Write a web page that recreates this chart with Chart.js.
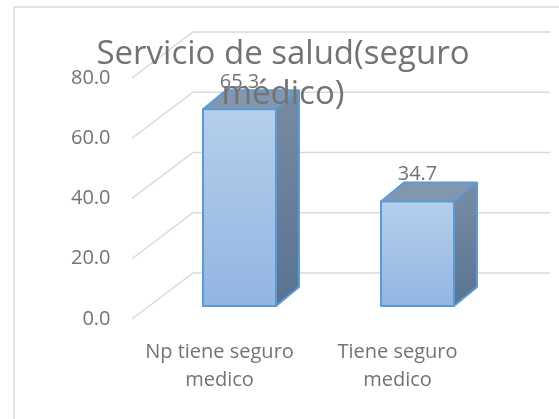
<!DOCTYPE html>
<html>
<head>
<meta charset="utf-8">
<title>Servicio de salud</title>
<script src="https://cdn.jsdelivr.net/npm/chart.js@4.4.1/dist/chart.umd.min.js"></script>
<style>
  html, body { margin: 0; padding: 0; background: #fff; }
  #wrap { width: 559px; height: 419px; position: relative; }
</style>
</head>
<body>
<div id="wrap"><canvas id="myChart" width="559" height="419"></canvas></div>
<script>
var categories = [['Np tiene seguro', 'medico'], ['Tiene seguro', 'medico']];
var values = [65.3, 34.7];
var tickValues = [0, 20, 40, 60, 80];
var titleLines = ['Servicio de salud(seguro', 'médico)'];

var textGray = '#737373';
var gridGray = '#d9d9d9';
var edgeBlue = '#5b9bd5';

// depth of the bars and of the back wall (excel 3d look)
var barDx = 23, barDy = 19;
var frontDrop = 13, backRise = 33;

var frame = {
  id: 'frame',
  beforeDraw: function(chart) {
    var ctx = chart.ctx;
    ctx.save();
    ctx.fillStyle = '#fff';
    ctx.fillRect(0, 0, chart.width, chart.height);
    ctx.strokeStyle = gridGray;
    ctx.lineWidth = 1.5;
    ctx.beginPath();
    ctx.moveTo(14, chart.height + 2);
    ctx.lineTo(14, 7);
    ctx.lineTo(chart.width + 2, 7);
    ctx.stroke();
    ctx.restore();
  }
};

var walls = {
  id: 'walls',
  beforeDatasetsDraw: function(chart) {
    var ctx = chart.ctx;
    var y = chart.scales.y;
    var area = chart.chartArea;
    ctx.save();
    ctx.strokeStyle = gridGray;
    ctx.lineWidth = 1.5;
    tickValues.forEach(function(v) {
      var py = y.getPixelForValue(v);
      ctx.beginPath();
      ctx.moveTo(area.left - 18.5, py + frontDrop);
      ctx.lineTo(area.left + 42.5, py - backRise);
      ctx.lineTo(area.right + 43.5, py - backRise);
      ctx.stroke();
    });
    ctx.restore();
  }
};

function ok(n) { return typeof n === 'number' && isFinite(n); }

var bars3d = {
  id: 'bars3d',
  afterDatasetsDraw: function(chart) {
    var ctx = chart.ctx;
    var meta = chart.getDatasetMeta(0);
    ctx.save();
    meta.data.forEach(function(bar, i) {
      if (!ok(bar.x) || !ok(bar.y) || !ok(bar.base)) return;
      var l = bar.x - bar.width / 2, r = bar.x + bar.width / 2;
      var top = bar.y, base = bar.base;

      var side = ctx.createLinearGradient(r, top, r + barDx, base);
      side.addColorStop(0, '#7689a2');
      side.addColorStop(1, '#587393');
      ctx.fillStyle = side;
      ctx.beginPath();
      ctx.moveTo(r, top);
      ctx.lineTo(r + barDx, top - barDy);
      ctx.lineTo(r + barDx, base - barDy);
      ctx.lineTo(r, base);
      ctx.closePath();
      ctx.fill();

      ctx.fillStyle = '#8396af';
      ctx.beginPath();
      ctx.moveTo(l, top);
      ctx.lineTo(l + barDx, top - barDy);
      ctx.lineTo(r + barDx, top - barDy);
      ctx.lineTo(r, top);
      ctx.closePath();
      ctx.fill();

      ctx.strokeStyle = edgeBlue;
      ctx.lineWidth = 2;
      ctx.lineJoin = 'round';
      ctx.beginPath();
      ctx.moveTo(l, top);
      ctx.lineTo(l + barDx, top - barDy);
      ctx.lineTo(r + barDx, top - barDy);
      ctx.lineTo(r + barDx, base - barDy);
      ctx.lineTo(r, base);
      ctx.moveTo(r, top);
      ctx.lineTo(r + barDx, top - barDy);
      ctx.stroke();

      // front face outline
      ctx.strokeRect(l, top, r - l, base - top);

      // value label above the bar
      ctx.fillStyle = textGray;
      ctx.font = '20px "Open Sans"';
      ctx.textAlign = 'center';
      ctx.textBaseline = 'middle';
      ctx.fillText(values[i].toFixed(1), bar.x, top - barDy - 8);
    });
    ctx.restore();
  },
  afterDraw: function(chart) {
    var ctx = chart.ctx;
    ctx.save();
    ctx.fillStyle = textGray;
    ctx.font = '33px "Open Sans"';
    ctx.textAlign = 'center';
    ctx.textBaseline = 'alphabetic';
    ctx.fillText(titleLines[0], 283, 64);
    ctx.fillText(titleLines[1], 283, 104);
    ctx.restore();
  }
};

var ctx = document.getElementById('myChart').getContext('2d');

function frontFill(context) {
  var c = context.chart;
  var ys = c.scales && c.scales.y;
  if (!ys || context.raw === undefined) return '#a6c3e7';
  var y0 = ys.getPixelForValue(context.raw);
  var y1 = ys.getPixelForValue(0);
  if (!ok(y0) || !ok(y1)) return '#a6c3e7';
  var g = c.ctx.createLinearGradient(0, y0, 0, y1);
  g.addColorStop(0, '#b5cfec');
  g.addColorStop(1, '#92b5e1');
  return g;
}

var myChart = new Chart(ctx, {
  type: 'bar',
  data: {
    labels: categories,
    datasets: [{
      data: values,
      backgroundColor: frontFill,
      borderWidth: 0,
      categoryPercentage: 1,
      barPercentage: 0.41
    }]
  },
  plugins: [frame, walls, bars3d],
  options: {
    responsive: false,
    animation: false,
    layout: {
      padding: { top: 65, right: 52.5, bottom: 0, left: 68.5 }
    },
    plugins: {
      legend: { display: false },
      title: { display: false },
      tooltip: { enabled: false }
    },
    scales: {
      x: {
        grid: { display: false, drawTicks: false },
        border: { display: false },
        afterFit: function(s) { s.height = 113; },
        ticks: {
          color: textGray,
          font: { family: 'Open Sans', size: 20, lineHeight: 1.4 },
          padding: 32,
          labelOffset: -20,
          maxRotation: 0
        }
      },
      y: {
        min: 0,
        max: 80,
        afterFit: function(s) { s.width = 82; },
        grid: { display: false, drawTicks: false },
        border: { display: false },
        ticks: {
          stepSize: 20,
          color: textGray,
          font: { family: 'Open Sans', size: 20 },
          padding: 40,
          labelOffset: 13,
          callback: function(v) { return Number(v).toFixed(1); }
        }
      }
    }
  }
});
</script>
</body>
</html>
